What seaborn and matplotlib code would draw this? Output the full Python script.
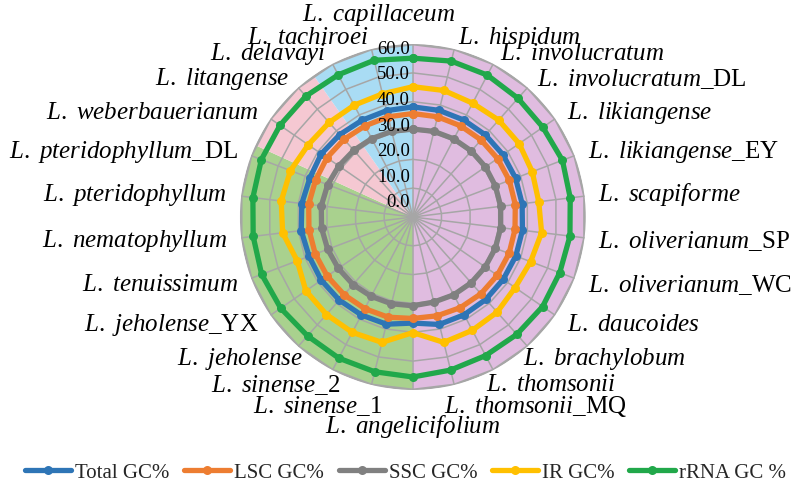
import numpy as np
import pandas as pd
import matplotlib
matplotlib.use('Agg')
import matplotlib.pyplot as plt
import seaborn as sns
from matplotlib.lines import Line2D

# ---- data ----
species = ['L. capillaceum', 'L. hispidum', 'L. involucratum', 'L. involucratum_DL',
           'L. likiangense', 'L. likiangense_EY', 'L. scapiforme', 'L. oliverianum_SP',
           'L. oliverianum_WC', 'L. daucoides', 'L. brachylobum', 'L. thomsonii',
           'L. thomsonii_MQ', 'L. angelicifolium', 'L. sinense_1', 'L. sinense_2',
           'L. jeholense', 'L. jeholense_YX', 'L. tenuissimum', 'L. nematophyllum',
           'L. pteridophyllum', 'L. pteridophyllum_DL', 'L. weberbauerianum',
           'L. litangense', 'L. delavayi', 'L. tachiroei']
total_gc = [38.2, 38.1, 38.0, 38.0, 38.0, 38.1, 38.2, 38.3, 38.2, 38.1, 38.2, 38.3, 38.4,
            36.8, 38.3, 38.4, 38.5, 38.6, 38.5, 39.0, 38.8, 38.2, 38.6, 38.2, 37.9, 38.0]
lsc_gc = [35.9, 35.8, 35.7, 35.7, 35.7, 35.8, 35.8, 35.7, 35.7, 35.6, 35.6, 35.5, 35.3,
          35.2, 35.8, 35.9, 36.0, 36.1, 36.2, 36.3, 36.4, 36.1, 36.2, 36.0, 35.7, 35.8]
ssc_gc = [30.5, 30.6, 30.6, 30.6, 30.6, 30.6, 30.7, 30.7, 30.6, 30.5, 30.5, 30.5, 30.4,
          30.8, 31.0, 31.1, 31.3, 31.4, 31.6, 31.9, 32.0, 31.6, 31.2, 30.9, 30.7, 30.6]
ir_gc = [45.2, 45.2, 44.6, 44.9, 44.8, 44.3, 44.0, 45.0, 43.7, 43.1, 44.1, 44.4, 44.8,
         40.1, 44.8, 45.2, 45.2, 45.1, 42.9, 45.5, 46.0, 45.4, 44.1, 43.8, 43.8, 44.0]
rrna_gc = [55.1, 55.7, 55.6, 55.0, 54.8, 55.5, 55.0, 54.9, 54.5, 54.7, 54.4, 54.3, 54.7,
           55.5, 55.3, 55.3, 55.1, 55.7, 56.1, 55.8, 55.9, 56.2, 56.0, 56.0, 55.7, 56.0]
series_names = ['Total GC%', 'LSC GC%', 'SSC GC%', 'IR GC%', 'rRNA GC %']
radial_ticks = [0, 10, 20, 30, 40, 50, 60]
# background sectors (degrees, clockwise from top)
sector_deg = [180, 114.5, 30.5, 35]

# ---- styles ----
series_colors = ['#2E75B6', '#ED7D31', '#808080', '#FFC000', '#21A84A']
sector_colors = ['#E0BCE0', '#A9D18E', '#F5C8D2', '#A9DCF4']
GridColor = '#A6A6A6'
SeriesLW = 3.8
MarkerSize = 6.5
LabelSize = 18

sns.set_theme(style='white')
plt.rcParams['font.family'] = ['Liberation Serif', 'DejaVu Serif']
plt.rcParams['mathtext.fontset'] = 'custom'
plt.rcParams['mathtext.it'] = 'Liberation Serif:italic'
plt.rcParams['mathtext.rm'] = 'Liberation Serif'

n = len(species)
theta = np.linspace(0, 2 * np.pi, n, endpoint=False)
theta_closed = np.append(theta, 2 * np.pi)

rows = []
for name, vals in zip(series_names, [total_gc, lsc_gc, ssc_gc, ir_gc, rrna_gc]):
    for t, v in zip(theta_closed, vals + vals[:1]):
        rows.append(dict(series=name, theta=t, value=v))
df = pd.DataFrame(rows)

fig = plt.figure(figsize=(7.97, 4.86), dpi=100)
ax = fig.add_axes([0.301, 0.1975, 0.434, 0.712], projection='polar')
ax.set_theta_zero_location('N')
ax.set_theta_direction(-1)
rmax = radial_ticks[-1]

# outer polygon frame, also used to clip the coloured sectors
outer = ax.fill(theta_closed, [rmax] * (n + 1), facecolor='none',
                edgecolor=GridColor, lw=2.0, zorder=3)[0]

start = 0
for deg, col in zip(sector_deg, sector_colors):
    w = np.deg2rad(deg)
    bars = ax.bar(np.deg2rad(start) + w / 2, rmax, width=w, bottom=0,
                  color=col, edgecolor='none', zorder=0)
    for b in bars:
        b.set_clip_path(outer)
    start += deg

# polygon gridlines + spokes
for r in radial_ticks[1:-1]:
    ax.plot(theta_closed, [r] * (n + 1), color=GridColor, lw=1.1, zorder=1)
for t in theta:
    ax.plot([t, t], [0, rmax], color=GridColor, lw=1.1, zorder=1)
ax.plot([0], [0], 'o', color=GridColor, ms=5, zorder=1)

# series
sns.lineplot(data=df, x='theta', y='value', hue='series', hue_order=series_names,
             palette=dict(zip(series_names, series_colors)), sort=False, estimator=None,
             marker='o', markersize=MarkerSize, markeredgewidth=0, linewidth=SeriesLW,
             legend=False, ax=ax, zorder=4)

ax.set_ylim(0, rmax)
ax.set_xticks([])
ax.set_yticks([])
ax.set_xlabel('')
ax.set_ylabel('')
ax.grid(False)
ax.spines['polar'].set_visible(False)
ax.set_facecolor('none')

# radial value labels
for r in radial_ticks:
    ax.annotate(f'{r:.1f}', xy=(0, 0.889 * r + 4.86), xytext=(-3, 0),
                textcoords='offset pixels', ha='right', va='center',
                fontsize=13.5, color='black', zorder=6)

# category labels (Excel-like placement around the frame)
for name, t in zip(species, theta):
    s, c = np.sin(t), np.cos(t)
    ha = 'left' if s > 0.05 else ('right' if s < -0.05 else 'center')
    dx = 14 * s
    dy = (11 * c) if c > 0 else (16 * c - 1)
    if c < -0.7 and abs(s) > 0.05:
        dx -= np.sign(s) * 14
    if c < -0.93 and abs(s) > 0.05:
        dy -= 5
    if abs(c) > 0.99:
        dy = 29 if c > 0 else -37
        if c > 0:
            dx = -34
    base, _, suffix = name.partition('_')
    label = r'$\mathit{' + base.replace(' ', r'\ ') + '}$' + ('_' + suffix if suffix else '')
    ax.annotate(label, xy=(t, rmax), xytext=(dx, dy),
                textcoords='offset pixels', ha=ha, va='center', fontsize=LabelSize,
                color='black', annotation_clip=False)

handles = [Line2D([0], [0], color=c, lw=SeriesLW, marker='o', ms=MarkerSize, mew=0)
           for c in series_colors]
fig.legend(handles, series_names, loc='center', bbox_to_anchor=(0.509, 0.027), ncol=5,
           frameon=False, fontsize=15, handlelength=2.2, handletextpad=0.2,
           columnspacing=0.7)

fig.savefig('out.png', dpi=100)
